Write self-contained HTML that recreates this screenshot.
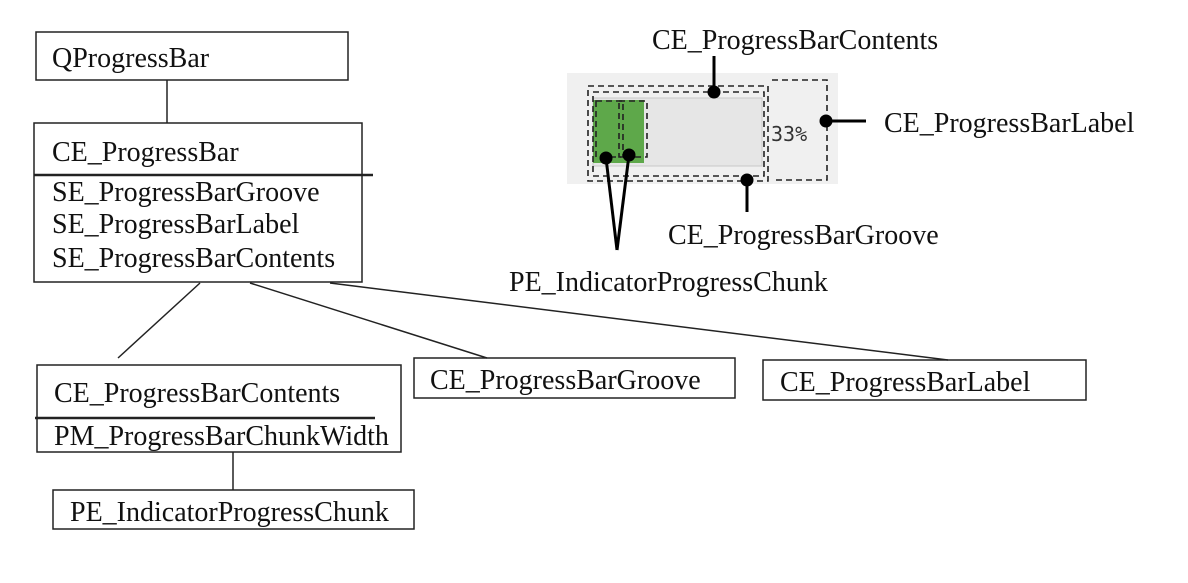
<!DOCTYPE html>
<html><head><style>
body{margin:0;background:#fff;}
svg text{font-family:"Liberation Serif",serif;font-size:28px;fill:#111;}
</style></head><body>
<svg width="1188" height="578" xmlns="http://www.w3.org/2000/svg">
<g fill="none" stroke="#222" stroke-width="1.5">
<rect x="36" y="32" width="312" height="48"/>
<line x1="167" y1="80" x2="167" y2="123"/>
<rect x="34" y="123" width="328" height="159"/>
<line x1="34" y1="175" x2="373" y2="175" stroke-width="2.5"/>
<line x1="200" y1="283" x2="118" y2="358"/>
<line x1="250" y1="283" x2="487" y2="358"/>
<line x1="330" y1="283" x2="948" y2="360"/>
<rect x="37" y="365" width="364" height="87"/>
<line x1="35" y1="418" x2="375" y2="418" stroke-width="2.5"/>
<line x1="233" y1="452" x2="233" y2="490"/>
<rect x="53" y="490" width="361" height="39"/>
<rect x="414" y="358" width="321" height="40"/>
<rect x="763" y="360" width="323" height="40"/>
</g>
<text x="52" y="67">QProgressBar</text>
<text x="52" y="161">CE_ProgressBar</text>
<text x="52" y="201">SE_ProgressBarGroove</text>
<text x="52" y="233">SE_ProgressBarLabel</text>
<text x="52" y="267">SE_ProgressBarContents</text>
<text x="54" y="402">CE_ProgressBarContents</text>
<text x="54" y="445">PM_ProgressBarChunkWidth</text>
<text x="70" y="521">PE_IndicatorProgressChunk</text>
<text x="430" y="389">CE_ProgressBarGroove</text>
<text x="780" y="391">CE_ProgressBarLabel</text>
<!-- widget -->
<rect x="567" y="73" width="271" height="111" fill="#f0f0f0"/>
<rect x="593" y="98" width="169" height="68" fill="#e6e6e6" stroke="#c8c8c8"/>
<rect x="593" y="100" width="51" height="63" fill="#5ea84a"/>
<text x="771" y="141" style="font-family:'DejaVu Sans Mono',monospace;font-size:20px;fill:#333">33%</text>
<g fill="none" stroke="#222" stroke-width="1.6" stroke-dasharray="6,4">
<rect x="588" y="86" width="180" height="95"/>
<rect x="593" y="92" width="171" height="84"/>
<rect x="596" y="101" width="27" height="56"/>
<rect x="619" y="101" width="28" height="56"/>
<path d="M772 80 H827 V180 H772"/>
</g>
<g stroke="#000" stroke-width="3" fill="#000">
<line x1="714" y1="92" x2="714" y2="56"/><circle cx="714" cy="92" r="5"/>
<line x1="826" y1="121" x2="866" y2="121"/><circle cx="826" cy="121" r="5"/>
<line x1="747" y1="180" x2="747" y2="212"/><circle cx="747" cy="180" r="5"/>
<line x1="606" y1="158" x2="617" y2="250"/><circle cx="606" cy="158" r="5"/>
<line x1="629" y1="155" x2="617" y2="250"/><circle cx="629" cy="155" r="5"/>
</g>
<text x="652" y="49">CE_ProgressBarContents</text>
<text x="884" y="132">CE_ProgressBarLabel</text>
<text x="668" y="244">CE_ProgressBarGroove</text>
<text x="509" y="291">PE_IndicatorProgressChunk</text>
</svg>
</body></html>
